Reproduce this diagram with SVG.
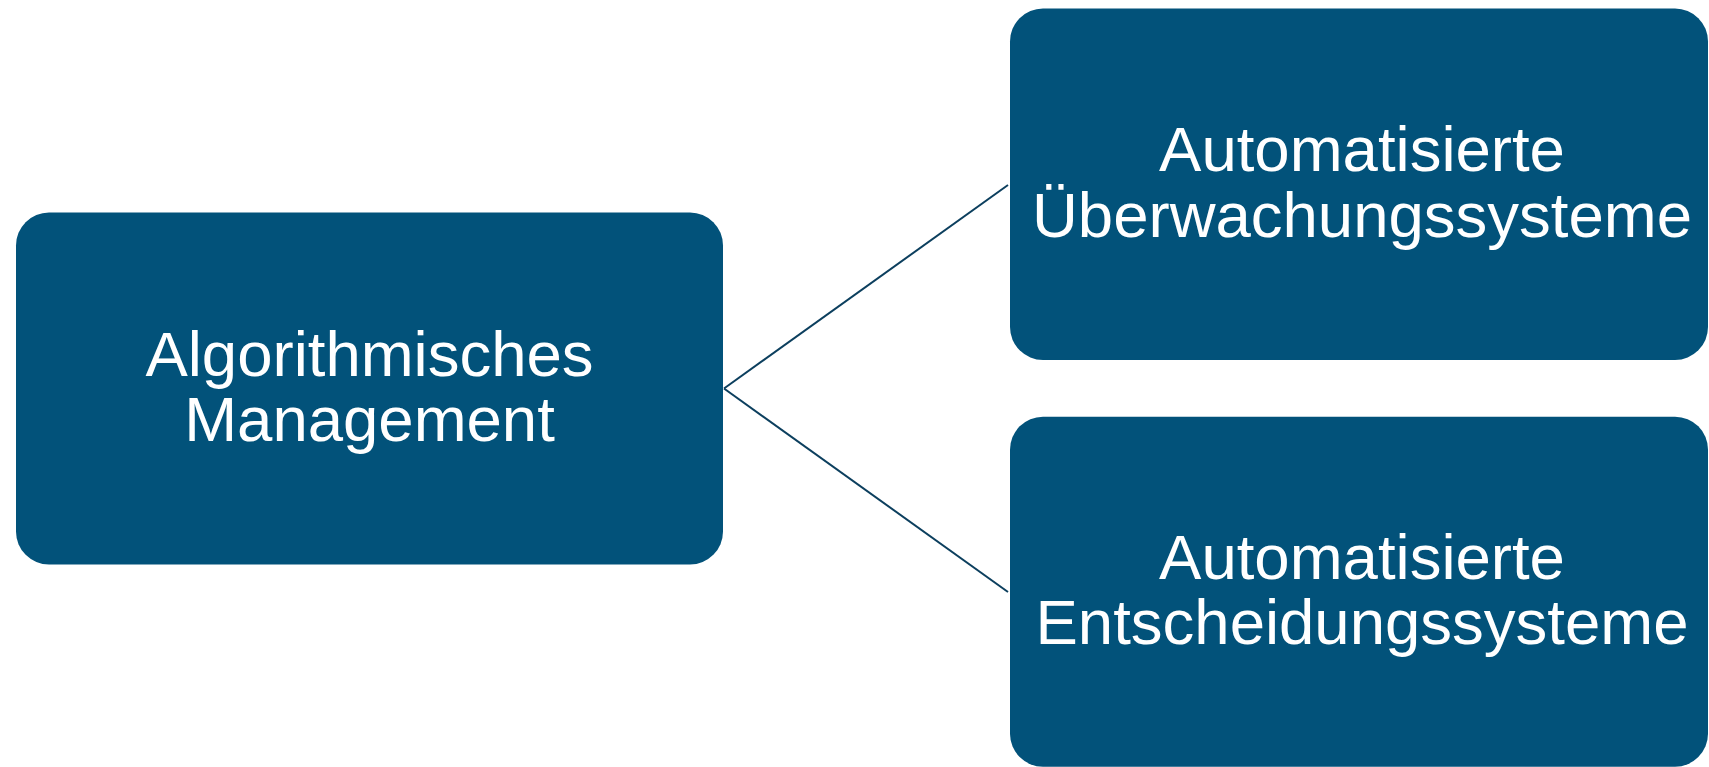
<svg xmlns="http://www.w3.org/2000/svg" width="1709" height="767" viewBox="0 0 1709 767">
  <style>
    .box { fill: #02527a; }
    .lbl { fill: #ffffff; font-family: "Liberation Sans", Arial, sans-serif; font-size: 63.5px; text-anchor: middle; }
    .conn { stroke: #0c3f5e; stroke-width: 2; fill: none; }
  </style>
  <rect width="1709" height="767" fill="#ffffff"/>
  <g id="connectors">
    <line class="conn" x1="724" y1="388.5" x2="1008" y2="185"/>
    <line class="conn" x1="724" y1="388.5" x2="1008" y2="592"/>
  </g>
  <g id="node-algorithmisches-management">
    <rect class="box" x="16" y="212.5" width="707" height="352" rx="33" ry="33"/>
    <text class="lbl" x="369.5" y="375.5">Algorithmisches</text>
    <text class="lbl" x="369.5" y="441">Management</text>
  </g>
  <g id="node-ueberwachung">
    <rect class="box" x="1010" y="8.5" width="698" height="351.5" rx="33" ry="33"/>
    <text class="lbl" x="1362" y="171">Automatisierte</text>
    <text class="lbl" x="1362" y="236.5">Überwachungssysteme</text>
  </g>
  <g id="node-entscheidung">
    <rect class="box" x="1010" y="416.7" width="698" height="350" rx="33" ry="33"/>
    <text class="lbl" x="1362" y="578.5">Automatisierte</text>
    <text class="lbl" x="1362" y="644">Entscheidungssysteme</text>
  </g>
</svg>
